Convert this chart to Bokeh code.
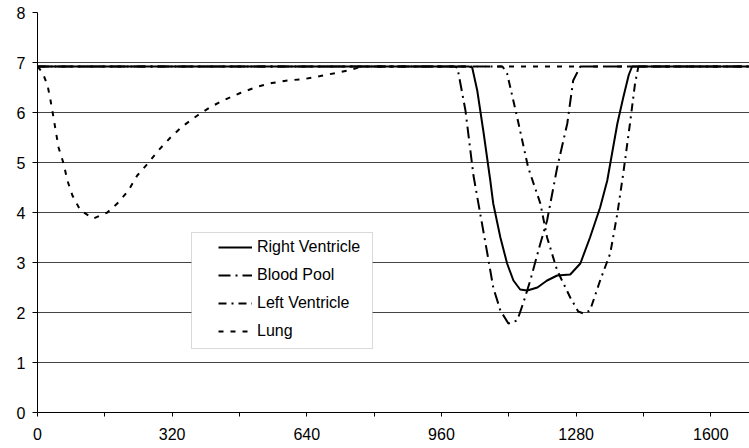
from bokeh.plotting import figure
from bokeh.models import Range1d, FixedTicker, Legend, LegendItem, BoxAnnotation
from bokeh.embed import file_html
from bokeh.resources import INLINE

# ---- data ----
rv_x = [0, 1025, 1033, 1045, 1060, 1076, 1083, 1100, 1116, 1131, 1147, 1164, 1188, 1211,
        1235, 1266, 1290, 1313, 1337, 1354, 1378, 1392, 1405, 1413, 1692]
rv_y = [6.92, 6.92, 6.9, 6.44, 5.6, 4.64, 4.18, 3.5, 2.98, 2.64, 2.46, 2.44, 2.5, 2.64,
        2.74, 2.76, 2.98, 3.5, 4.1, 4.64, 5.78, 6.3, 6.75, 6.92, 6.92]

bp_x = [0, 990, 998, 1005, 1017, 1036, 1052, 1069, 1083, 1100, 1119, 1140, 1154, 1171,
        1195, 1211, 1235, 1259, 1273, 1290, 1692]
bp_y = [6.92, 6.92, 6.9, 6.58, 6.04, 4.74, 3.98, 3.18, 2.5, 2.04, 1.78, 1.84, 2.18, 2.64,
        3.38, 3.84, 4.9, 5.78, 6.64, 6.92, 6.92]

lv_x = [0, 1105, 1116, 1140, 1166, 1195, 1211, 1235, 1266, 1285, 1298, 1313, 1337, 1361,
        1378, 1392, 1408, 1420, 1428, 1692]
lv_y = [6.92, 6.92, 6.78, 5.9, 4.9, 4.18, 3.5, 2.84, 2.3, 2.02, 1.98, 2.04, 2.64, 3.18,
        3.98, 4.78, 5.78, 6.58, 6.92, 6.92]

lung_x = [0, 12, 24, 31, 38, 50, 62, 71, 83, 102, 133, 166, 192, 216, 237, 264, 287, 316,
          344, 380, 411, 446, 482, 520, 557, 594, 634, 672, 709, 748, 770, 1692]
lung_y = [6.92, 6.8, 6.54, 6.24, 5.9, 5.3, 4.98, 4.64, 4.34, 4.04, 3.88, 4.0, 4.2, 4.44,
          4.74, 5.0, 5.24, 5.5, 5.72, 5.94, 6.11, 6.26, 6.39, 6.51, 6.59, 6.64, 6.67,
          6.73, 6.79, 6.86, 6.92, 6.92]

series_names = ["Right Ventricle", "Blood Pool", "Left Ventricle", "Lung"]
x_ticks = [0, 160, 320, 480, 640, 800, 960, 1120, 1280, 1440, 1600]
x_tick_labels = ["0", "", "320", "", "640", "", "960", "", "1280", "", "1600"]
y_ticks = [0, 1, 2, 3, 4, 5, 6, 7, 8]

FONT = "Liberation Sans"

p = figure(width=749, height=448, x_range=Range1d(0, 1692), y_range=Range1d(0, 8),
           output_backend="svg", toolbar_location=None,
           min_border_left=37, min_border_right=0, min_border_top=12, min_border_bottom=36)
p.outline_line_color = None
p.background_fill_color = "white"
p.border_fill_color = "white"

p.xgrid.visible = False
p.ygrid.ticker = FixedTicker(ticks=y_ticks)
p.ygrid.grid_line_color = "#444444"
p.ygrid.grid_line_width = 1

p.xaxis.ticker = FixedTicker(ticks=x_ticks)
p.xaxis.major_label_overrides = {t: l for t, l in zip(x_ticks, x_tick_labels)}
p.yaxis.ticker = FixedTicker(ticks=y_ticks)
for ax in (p.xaxis, p.yaxis):
    ax.axis_line_color = "black"
    ax.major_tick_line_color = "black"
    ax.minor_tick_line_color = None
    ax.major_tick_in = 0
    ax.major_label_text_font = FONT
    ax.major_label_text_font_size = "16px"
    ax.major_label_text_color = "black"
p.xaxis.major_tick_out = 4
p.xaxis.major_label_standoff = 11
p.yaxis.major_tick_out = 5
p.yaxis.major_label_standoff = 7

r_lung = p.line(lung_x, lung_y, line_color="black", line_width=2, line_dash="5 7")
r_lv = p.line(lv_x, lv_y, line_color="black", line_width=2, line_dash="8 5 2 5")
r_bp = p.line(bp_x, bp_y, line_color="black", line_width=2, line_dash="12 5 2 5")
r_rv = p.line(rv_x, rv_y, line_color="black", line_width=2)

box = BoxAnnotation(left=191, right=372, top=232, bottom=348,
                    left_units="canvas", right_units="canvas",
                    top_units="canvas", bottom_units="canvas",
                    fill_color="white", fill_alpha=1.0,
                    line_color="#808080", line_width=1)
p.add_layout(box)

legend = Legend(items=[LegendItem(label=series_names[0], renderers=[r_rv]),
                       LegendItem(label=series_names[1], renderers=[r_bp]),
                       LegendItem(label=series_names[2], renderers=[r_lv]),
                       LegendItem(label=series_names[3], renderers=[r_lung])],
                location=(181, 71), margin=0, padding=0, spacing=8,
                glyph_width=34, glyph_height=20, label_height=20, label_standoff=5,
                label_text_font=FONT, label_text_font_size="16px",
                label_text_color="black",
                border_line_color=None, background_fill_alpha=0)
p.add_layout(legend, "center")

open("out.html", "w").write(file_html(p, INLINE))
